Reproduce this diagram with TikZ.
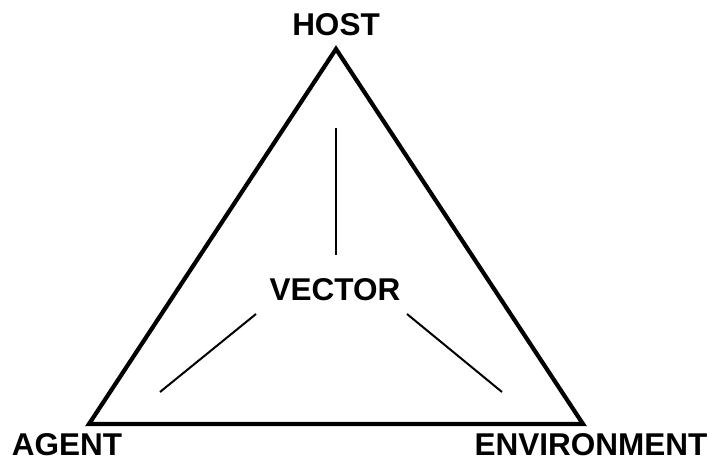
\documentclass[tikz,border=0pt]{standalone}
\usepackage{fontspec}
\setmainfont{Liberation Sans}
\begin{document}
\begin{tikzpicture}[x=1pt,y=-1pt,
  lbl/.style={font=\bfseries\fontsize{31.5}{35}\selectfont, anchor=base, inner sep=0pt},
  side/.style={line width=4.2pt, line join=miter},
  spoke/.style={line width=2pt}]
\useasboundingbox (0,0) rectangle (712,463);
\coordinate (top) at (336,49);
\coordinate (bl) at (89,424);
\coordinate (br) at (583,424);
\draw[side] (top) -- (bl) -- (br) -- cycle;
\node[lbl] (host) at (336,35) {HOST};
\node[lbl] (agent) at (67,455) {AGENT};
\node[lbl] (env) at (591,455) {ENVIRONMENT};
\node[lbl] (vector) at (335,300) {VECTOR};
\coordinate (v1) at (336,128);
\coordinate (v2) at (336,255);
\coordinate (l1) at (256,314);
\coordinate (l2) at (160,392);
\coordinate (r1) at (407,314);
\coordinate (r2) at (502,392);
\draw[spoke] (v1) -- (v2);
\draw[spoke] (l1) -- (l2);
\draw[spoke] (r1) -- (r2);
\end{tikzpicture}
\end{document}
